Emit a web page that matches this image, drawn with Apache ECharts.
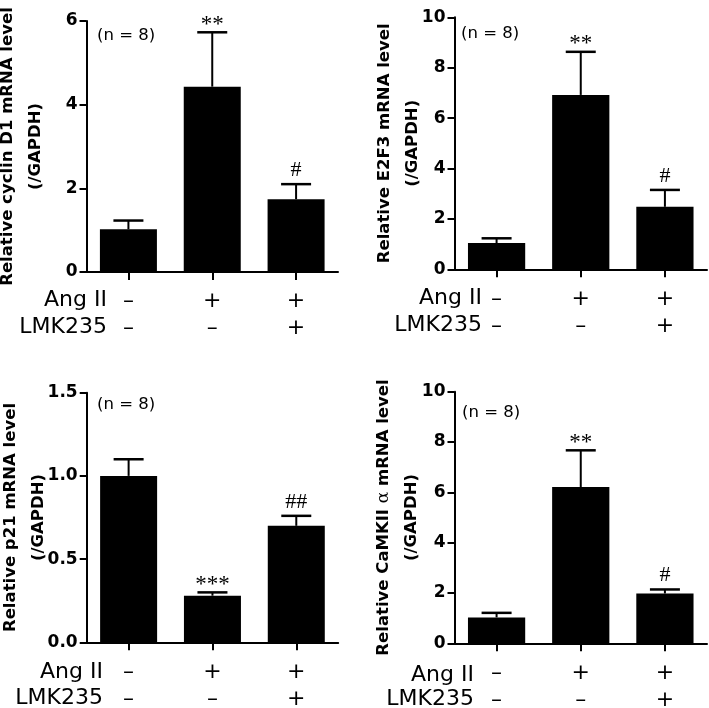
<!DOCTYPE html>
<html><head><meta charset="utf-8">
<script src="https://cdn.jsdelivr.net/npm/echarts@6/dist/echarts.min.js"></script>
<style>html,body{margin:0;padding:0;background:#fff}#c{width:709px;height:708px}</style>
</head><body><div id="c"></div>
<script>
// ---- data ----
const categories = ['Control', 'Ang II', 'Ang II + LMK235'];
const angII = ['–', '+', '+'];
const lmk235 = ['–', '–', '+'];
const rowNames = ['Ang II', 'LMK235'];
const nText = '(n = 8)';

const cyclinD1Mean = [1.02, 4.43, 1.74];
const cyclinD1SE = [0.21, 1.30, 0.36];
const cyclinD1Sig = ['', '**', '#'];

const e2f3Mean = [1.04, 6.92, 2.48];
const e2f3SE = [0.19, 1.71, 0.67];
const e2f3Sig = ['', '**', '#'];

const p21Mean = [1.00, 0.28, 0.70];
const p21SE = [0.10, 0.02, 0.06];
const p21Sig = ['', '***', '##'];

const camkMean = [1.03, 6.21, 1.98];
const camkSE = [0.18, 1.46, 0.16];
const camkSig = ['', '**', '#'];

const yMax = [6, 10, 1.5, 10];
const yInterval = [2, 2, 0.5, 2];
const yTitles = [
  '{b|Relative cyclin D1 mRNA level}\n{b|(/GAPDH)}',
  '{b|Relative E2F3 mRNA level}\n{b|(/GAPDH)}',
  '{b|Relative p21 mRNA level}\n{b|(/GAPDH)}',
  '{b|Relative CaMKII }{a|α}{b| mRNA level}\n{b|(/GAPDH)}'
];

// ---- layout ----
const FONT = 'DejaVu Sans';
const panels = [
  {mean: cyclinD1Mean, se: cyclinD1SE, sig: cyclinD1Sig, grid: {left: 86.5, top: 21, width: 251.5, height: 251}, nameGap: 37, nPos: [97, 35.5], rowX: 107, rowY: [300, 327]},
  {mean: e2f3Mean, se: e2f3SE, sig: e2f3Sig, grid: {left: 454.5, top: 17.3, width: 252.5, height: 252}, nameGap: 28, nPos: [461, 33.5], rowX: 482, rowY: [298.5, 325]},
  {mean: p21Mean, se: p21SE, sig: p21Sig, grid: {left: 86.7, top: 392.7, width: 251.5, height: 249.6}, nameGap: 34, nPos: [97, 405], rowX: 103, rowY: [672.5, 698.5]},
  {mean: camkMean, se: camkSE, sig: camkSig, grid: {left: 454.5, top: 391.7, width: 252.5, height: 251.6}, nameGap: 28.5, nPos: [462, 413], rowX: 474, rowY: [675, 699]}
];

const grids = [], xAxes = [], yAxes = [], series = [], graphics = [];
panels.forEach((p, k) => {
  grids.push(Object.assign({outerBoundsMode: 'none', containLabel: false}, p.grid));
  xAxes.push({
    type: 'category', gridIndex: k, data: categories,
    axisLine: {show: true, lineStyle: {color: '#000', width: 2}},
    axisTick: {show: true, alignWithLabel: true, length: 8, lineStyle: {color: '#000', width: 2}},
    axisLabel: {
      margin: 16, color: '#000', fontFamily: FONT, fontSize: 22, lineHeight: 27,
      formatter: (v, i) => angII[i] + '\n' + lmk235[i]
    },
    splitLine: {show: false}
  });
  yAxes.push({
    type: 'value', gridIndex: k, min: 0, max: yMax[k], interval: yInterval[k],
    axisLine: {show: true, lineStyle: {color: '#000', width: 2}},
    axisTick: {show: true, length: 7, lineStyle: {color: '#000', width: 2}},
    axisLabel: {
      margin: 9, color: '#000', fontFamily: FONT, fontSize: 17, fontWeight: 'bold',
      formatter: v => (yInterval[k] < 1 ? v.toFixed(1) : String(v))
    },
    splitLine: {show: false},
    name: yTitles[k], nameLocation: 'middle', nameGap: p.nameGap, nameMoveOverlap: false,
    nameTextStyle: {
      color: '#000', lineHeight: 28,
      rich: {
        b: {fontFamily: FONT, fontWeight: 'bold', fontSize: 16.5, lineHeight: 28, color: '#000'},
        a: {fontFamily: 'DejaVu Serif', fontSize: 17, lineHeight: 28, color: '#000'}
      }
    }
  });
  series.push({
    type: 'bar', xAxisIndex: k, yAxisIndex: k, data: p.mean,
    barCategoryGap: '32%', itemStyle: {color: '#000'}, silent: true, animation: false
  });
  const sig = p.sig;
  series.push({
    type: 'custom', xAxisIndex: k, yAxisIndex: k, animation: false, silent: true,
    data: p.mean.map((m, i) => [i, m, p.se[i]]),
    renderItem: (params, api) => {
      const i = api.value(0), m = api.value(1), e = api.value(2);
      const a = api.coord([i, m]);
      const b = api.coord([i, m + e]);
      const half = 15;
      const mark = sig[params.dataIndex];
      const isStar = mark.indexOf('*') >= 0;
      const children = [
        {type: 'line', shape: {x1: a[0], y1: a[1], x2: b[0], y2: b[1]}, style: {stroke: '#000', lineWidth: 2}},
        {type: 'line', shape: {x1: b[0] - half, y1: b[1], x2: b[0] + half, y2: b[1]}, style: {stroke: '#000', lineWidth: 2.5}}
      ];
      if (mark) {
        children.push({
          type: 'text',
          style: {
            text: mark, x: b[0], y: b[1] - (isStar ? -4 : 3),
            align: 'center', verticalAlign: 'bottom',
            font: (isStar ? '23px' : '22px') + ' "Liberation Serif"', fill: '#000'
          }
        });
      }
      return {type: 'group', children};
    }
  });
  graphics.push({
    type: 'text', silent: true, x: p.nPos[0], y: p.nPos[1],
    style: {text: nText, font: '16.5px "' + FONT + '"', fill: '#000', align: 'left', verticalAlign: 'middle'}
  });
  rowNames.forEach((r, j) => {
    graphics.push({
      type: 'text', silent: true, x: p.rowX, y: p.rowY[j],
      style: {text: r, font: '22px "' + FONT + '"', fill: '#000', align: 'right', verticalAlign: 'middle'}
    });
  });
});

const chart = echarts.init(document.getElementById('c'), null, {renderer: 'canvas'});
chart.setOption({
  backgroundColor: '#fff',
  animation: false,
  grid: grids, xAxis: xAxes, yAxis: yAxes, series: series,
  graphic: graphics
});
</script></body></html>
